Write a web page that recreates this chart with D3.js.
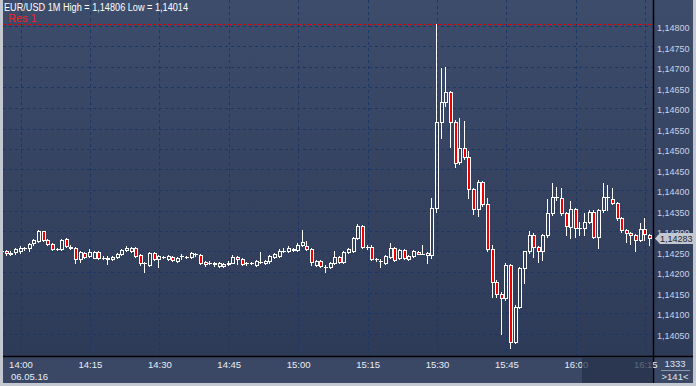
<!DOCTYPE html>
<html><head><meta charset="utf-8">
<script src="https://cdn.jsdelivr.net/npm/d3@7"></script>
<style>html,body{margin:0;padding:0;background:#c4c8d0;}svg{display:block;}</style>
</head><body><svg id="c" width="696" height="386"></svg>
<script>
const startTime = "2016-05-06T13:56:00";
const open = [1.14252,1.14252,1.14245,1.14248,1.14250,1.14258,1.14258,1.14270,1.14276,1.14300,1.14278,1.14268,1.14256,1.14255,1.14280,1.14262,1.14258,1.14232,1.14246,1.14240,1.14235,1.14248,1.14235,1.14235,1.14232,1.14237,1.14243,1.14253,1.14251,1.14258,1.14241,1.14221,1.14217,1.14246,1.14231,1.14236,1.14231,1.14237,1.14227,1.14239,1.14237,1.14237,1.14243,1.14241,1.14225,1.14223,1.14222,1.14215,1.14214,1.14219,1.14223,1.14236,1.14231,1.14221,1.14221,1.14217,1.14225,1.14222,1.14227,1.14237,1.14240,1.14251,1.14252,1.14256,1.14253,1.14267,1.14263,1.14255,1.14217,1.14227,1.14213,1.14211,1.14222,1.14236,1.14224,1.14248,1.14252,1.14282,1.14312,1.14262,1.14262,1.14231,1.14227,1.14222,1.14237,1.14258,1.14233,1.14254,1.14231,1.14239,1.14249,1.14245,1.14241,1.14241,1.14356,1.14567,1.14615,1.14639,1.14567,1.14468,1.14502,1.14480,1.14402,1.14353,1.14420,1.14366,1.14255,1.14176,1.14146,1.14136,1.14217,1.14030,1.14115,1.14209,1.14250,1.14290,1.14262,1.14250,1.14290,1.14343,1.14382,1.14380,1.14343,1.14310,1.14353,1.14307,1.14307,1.14323,1.14347,1.14286,1.14351,1.14382,1.14377,1.14368,1.14331,1.14302,1.14296,1.14290,1.14278,1.14304,1.14290];
const high = [1.14254,1.14254,1.14251,1.14258,1.14263,1.14262,1.14271,1.14281,1.14302,1.14301,1.14280,1.14271,1.14259,1.14280,1.14283,1.14266,1.14261,1.14251,1.14249,1.14256,1.14251,1.14251,1.14239,1.14238,1.14239,1.14246,1.14256,1.14263,1.14261,1.14261,1.14244,1.14224,1.14249,1.14249,1.14241,1.14239,1.14241,1.14240,1.14237,1.14244,1.14240,1.14249,1.14246,1.14244,1.14227,1.14226,1.14224,1.14224,1.14222,1.14226,1.14241,1.14239,1.14234,1.14225,1.14224,1.14229,1.14248,1.14229,1.14241,1.14246,1.14255,1.14258,1.14263,1.14258,1.14271,1.14302,1.14275,1.14258,1.14229,1.14229,1.14217,1.14224,1.14252,1.14239,1.14251,1.14258,1.14285,1.14317,1.14315,1.14265,1.14265,1.14235,1.14231,1.14241,1.14270,1.14261,1.14256,1.14256,1.14241,1.14254,1.14251,1.14266,1.14248,1.14380,1.14806,1.14698,1.14701,1.14641,1.14570,1.14575,1.14568,1.14495,1.14405,1.14424,1.14423,1.14380,1.14266,1.14180,1.14152,1.14223,1.14220,1.14120,1.14212,1.14252,1.14301,1.14295,1.14264,1.14293,1.14377,1.14418,1.14408,1.14404,1.14346,1.14374,1.14356,1.14323,1.14343,1.14351,1.14351,1.14353,1.14416,1.14412,1.14404,1.14371,1.14334,1.14305,1.14298,1.14293,1.14320,1.14331,1.14293];
const low = [1.14249,1.14242,1.14242,1.14243,1.14246,1.14254,1.14251,1.14267,1.14273,1.14276,1.14266,1.14254,1.14253,1.14253,1.14261,1.14256,1.14222,1.14224,1.14234,1.14237,1.14233,1.14232,1.14232,1.14219,1.14229,1.14234,1.14241,1.14251,1.14249,1.14237,1.14217,1.14201,1.14215,1.14229,1.14212,1.14233,1.14229,1.14227,1.14224,1.14232,1.14234,1.14234,1.14240,1.14219,1.14215,1.14219,1.14215,1.14213,1.14212,1.14217,1.14221,1.14219,1.14217,1.14217,1.14219,1.14214,1.14222,1.14219,1.14222,1.14234,1.14237,1.14249,1.14249,1.14251,1.14251,1.14263,1.14253,1.14217,1.14214,1.14212,1.14201,1.14209,1.14219,1.14221,1.14221,1.14246,1.14249,1.14280,1.14258,1.14256,1.14229,1.14226,1.14213,1.14219,1.14234,1.14226,1.14231,1.14232,1.14229,1.14236,1.14243,1.14243,1.14221,1.14234,1.14346,1.14527,1.14606,1.14506,1.14456,1.14464,1.14476,1.14380,1.14341,1.14337,1.14361,1.14251,1.14140,1.14140,1.14050,1.14132,1.14014,1.14027,1.14112,1.14174,1.14246,1.14237,1.14225,1.14229,1.14285,1.14339,1.14376,1.14339,1.14290,1.14282,1.14286,1.14290,1.14290,1.14319,1.14282,1.14258,1.14346,1.14351,1.14366,1.14327,1.14297,1.14274,1.14268,1.14250,1.14276,1.14278,1.14266];
const close = [1.14252,1.14247,1.14247,1.14255,1.14259,1.14258,1.14268,1.14278,1.14300,1.14278,1.14268,1.14256,1.14256,1.14278,1.14264,1.14258,1.14232,1.14248,1.14237,1.14248,1.14248,1.14235,1.14235,1.14232,1.14237,1.14243,1.14254,1.14258,1.14258,1.14240,1.14221,1.14221,1.14246,1.14232,1.14239,1.14236,1.14239,1.14229,1.14235,1.14239,1.14237,1.14246,1.14243,1.14222,1.14219,1.14223,1.14219,1.14221,1.14219,1.14223,1.14236,1.14232,1.14219,1.14221,1.14221,1.14227,1.14225,1.14227,1.14239,1.14243,1.14252,1.14251,1.14258,1.14253,1.14267,1.14272,1.14255,1.14224,1.14227,1.14215,1.14213,1.14222,1.14236,1.14224,1.14248,1.14256,1.14282,1.14312,1.14260,1.14262,1.14231,1.14231,1.14227,1.14239,1.14258,1.14229,1.14254,1.14235,1.14239,1.14251,1.14245,1.14245,1.14246,1.14356,1.14567,1.14615,1.14639,1.14565,1.14467,1.14502,1.14481,1.14402,1.14353,1.14420,1.14366,1.14255,1.14176,1.14146,1.14136,1.14217,1.14030,1.14115,1.14209,1.14250,1.14290,1.14262,1.14250,1.14290,1.14343,1.14382,1.14382,1.14343,1.14312,1.14353,1.14307,1.14307,1.14323,1.14347,1.14286,1.14351,1.14384,1.14382,1.14369,1.14331,1.14302,1.14296,1.14290,1.14278,1.14304,1.14293,1.14283];
const priceTicks = [1.14050,1.14100,1.14150,1.14200,1.14250,1.14300,1.14350,1.14400,1.14450,1.14500,1.14550,1.14600,1.14650,1.14700,1.14750,1.14800];
const timeTicks = ["14:00","14:15","14:30","14:45","15:00","15:15","15:30","15:45","16:00","16:15"];
const dateLabel = "06.05.16";
const titleText = "EUR/USD 1M High = 1,14806 Low = 1,14014";
const resLabel = "Res 1";
const resLevel = 1.14806;
const lastPrice = 1.14283;
const totalBars = "1333";
const visibleBars = ">141<";

const svg = d3.select("#c");
const W = 696, H = 386;
const PL = 3, PR = 653, PT = 0, PB = 356, AXR = 693, AXB = 383;
const FONT = "Liberation Sans, Arial, sans-serif";
const t0 = new Date(startTime);
const times = open.map((_, i) => d3.timeMinute.offset(t0, i));
const x = d3.scaleTime().domain([t0, times[times.length - 1]]).range([2, 649.9]);
const y = d3.scaleLinear().domain([1.1405, 1.148]).range([333.5, 26]);
const fmtP = d => d.toFixed(5).replace(".", ",");
const tickDates = timeTicks.map(s => { const [h, m] = s.split(":").map(Number); const d = new Date(t0); d.setHours(h, m, 0, 0); return d; });

const defs = svg.append("defs");
const g1 = defs.append("linearGradient").attr("id", "bg").attr("x1", 0).attr("y1", 0).attr("x2", 0).attr("y2", 1);
g1.append("stop").attr("offset", "0%").attr("stop-color", "#3d4c6b");
g1.append("stop").attr("offset", "100%").attr("stop-color", "#2e3b58");
defs.append("clipPath").attr("id", "clip").append("rect").attr("x", PL).attr("y", PT).attr("width", PR - PL).attr("height", PB - PT);

svg.append("rect").attr("width", W).attr("height", H).attr("fill", "#c4c8d0");
svg.append("rect").attr("x", PL).attr("y", 0).attr("width", PR - PL).attr("height", PB).attr("fill", "url(#bg)");
svg.append("rect").attr("x", PR).attr("y", 0).attr("width", AXR - PR).attr("height", PB).attr("fill", "url(#bg)");
svg.append("rect").attr("x", PL).attr("y", PB).attr("width", AXR - PL).attr("height", AXB - PB).attr("fill", "#3b4865");

// grid
const grid = svg.append("g").attr("shape-rendering", "crispEdges").attr("stroke", "#1b3766").attr("stroke-dasharray", "3,3");
grid.selectAll("line.h").data(priceTicks).join("line").attr("class", "h")
  .attr("x1", PL).attr("x2", PR).attr("y1", d => Math.round(y(d)) + 0.5).attr("y2", d => Math.round(y(d)) + 0.5);
grid.selectAll("line.v").data(tickDates).join("line").attr("class", "v")
  .attr("y1", PT).attr("y2", PB).attr("x1", d => Math.round(x(d)) + 0.5).attr("x2", d => Math.round(x(d)) + 0.5);

// resistance
const ry = Math.round(y(resLevel)) + 0.5;
svg.append("line").attr("x1", PL).attr("x2", PR).attr("y1", ry).attr("y2", ry)
  .attr("stroke", "#e00000").attr("stroke-dasharray", "3,2").attr("shape-rendering", "crispEdges");

// candles
const cg = svg.append("g").attr("clip-path", "url(#clip)");
const data = times.map((t, i) => ({ t, o: open[i], h: high[i], l: low[i], c: close[i] }));
data.forEach(d => {
  const cx = Math.round(x(d.t));
  const top = Math.round(y(Math.max(d.o, d.c)));
  const bot = Math.round(y(Math.min(d.o, d.c)));
  const hy = Math.round(y(d.h)), ly = Math.round(y(d.l));
  const wx = cx + 0.5 - 1;
  if (hy < top) cg.append("line").attr("x1", wx).attr("x2", wx).attr("y1", hy).attr("y2", top).attr("stroke", "#fff");
  if (ly > bot) cg.append("line").attr("x1", wx).attr("x2", wx).attr("y1", bot).attr("y2", ly + 1).attr("stroke", "#fff");
  if (bot - top < 1) {
    cg.append("line").attr("x1", cx - 2).attr("x2", cx + 2).attr("y1", top + 0.5).attr("y2", top + 0.5).attr("stroke", "#fff");
  } else {
    cg.append("rect").attr("x", cx - 1.5).attr("y", top + 0.5).attr("width", 3).attr("height", bot - top)
      .attr("fill", d.c < d.o ? "#ee0000" : "none").attr("stroke", "#fff").attr("stroke-width", 1);
  }
});

// separators
svg.append("line").attr("x1", PR + 0.5).attr("x2", PR + 0.5).attr("y1", 0).attr("y2", AXB).attr("stroke", "#000").attr("stroke-width", 1.5);
svg.append("line").attr("x1", PL).attr("x2", AXR).attr("y1", PB + 0.5).attr("y2", PB + 0.5).attr("stroke", "#000").attr("stroke-width", 1.5);

// right axis
const ly0 = Math.round(y(lastPrice));
const ra = svg.append("g").attr("transform", `translate(${PR},0)`)
  .call(d3.axisRight(y).tickValues(priceTicks).tickFormat(fmtP).tickSize(0).tickPadding(4));
ra.select(".domain").remove();
ra.selectAll("text").attr("fill", "#c9d3e4").attr("font-family", FONT).attr("font-size", 9).attr("dy", "0.55em");

// bottom axis
const ba = svg.append("g").attr("transform", `translate(0,${PB})`)
  .call(d3.axisBottom(x).tickValues(tickDates).tickFormat(d3.timeFormat("%H:%M")).tickSize(0).tickPadding(5.5));
ba.select(".domain").remove();
ba.selectAll("text").attr("fill", "#e8edf5").attr("font-family", FONT).attr("font-size", 9.5);
svg.append("text").attr("x", 11).attr("y", 380).text(dateLabel).attr("fill", "#e8edf5")
  .attr("font-family", FONT).attr("font-size", 9.5);
svg.append("rect").attr("x", 582).attr("y", PB + 1.5).attr("width", PR - 582).attr("height", AXB - PB - 1.5)
  .attr("fill", "#26304a").attr("opacity", 0.72);

// bar count box
svg.append("text").attr("x", 675).attr("y", 367).attr("text-anchor", "middle").text(totalBars)
  .attr("fill", "#dde3ee").attr("font-family", FONT).attr("font-size", 9.5);
svg.append("line").attr("x1", 661).attr("x2", 690).attr("y1", 370.5).attr("y2", 370.5).attr("stroke", "#8d97ab");
svg.append("text").attr("x", 675).attr("y", 380).attr("text-anchor", "middle").text(visibleBars)
  .attr("fill", "#dde3ee").attr("font-family", FONT).attr("font-size", 9.5);

// last price tag (drawn over the axis label it covers, as in the reference)
svg.append("path").attr("d", `M655,${ly0 + 0.5} L660,${ly0 - 5} L693,${ly0 - 5} L693,${ly0 + 6} L660,${ly0 + 6} Z`)
  .attr("fill", "#c3c7cf");
svg.append("text").attr("x", 660).attr("y", ly0 + 3.5).text(fmtP(lastPrice)).attr("fill", "#1e2532")
  .attr("font-family", FONT).attr("font-size", 9);

// title and res label
svg.append("text").attr("x", 4).attr("y", 10.5).text(titleText).attr("fill", "#ffffff")
  .attr("font-family", FONT).attr("font-size", 10)
  .attr("textLength", 184).attr("lengthAdjust", "spacingAndGlyphs");
svg.append("text").attr("x", 8).attr("y", 21.5).text(resLabel).attr("fill", "#ff1a1a")
  .attr("font-family", FONT).attr("font-size", 11);
</script></body></html>
